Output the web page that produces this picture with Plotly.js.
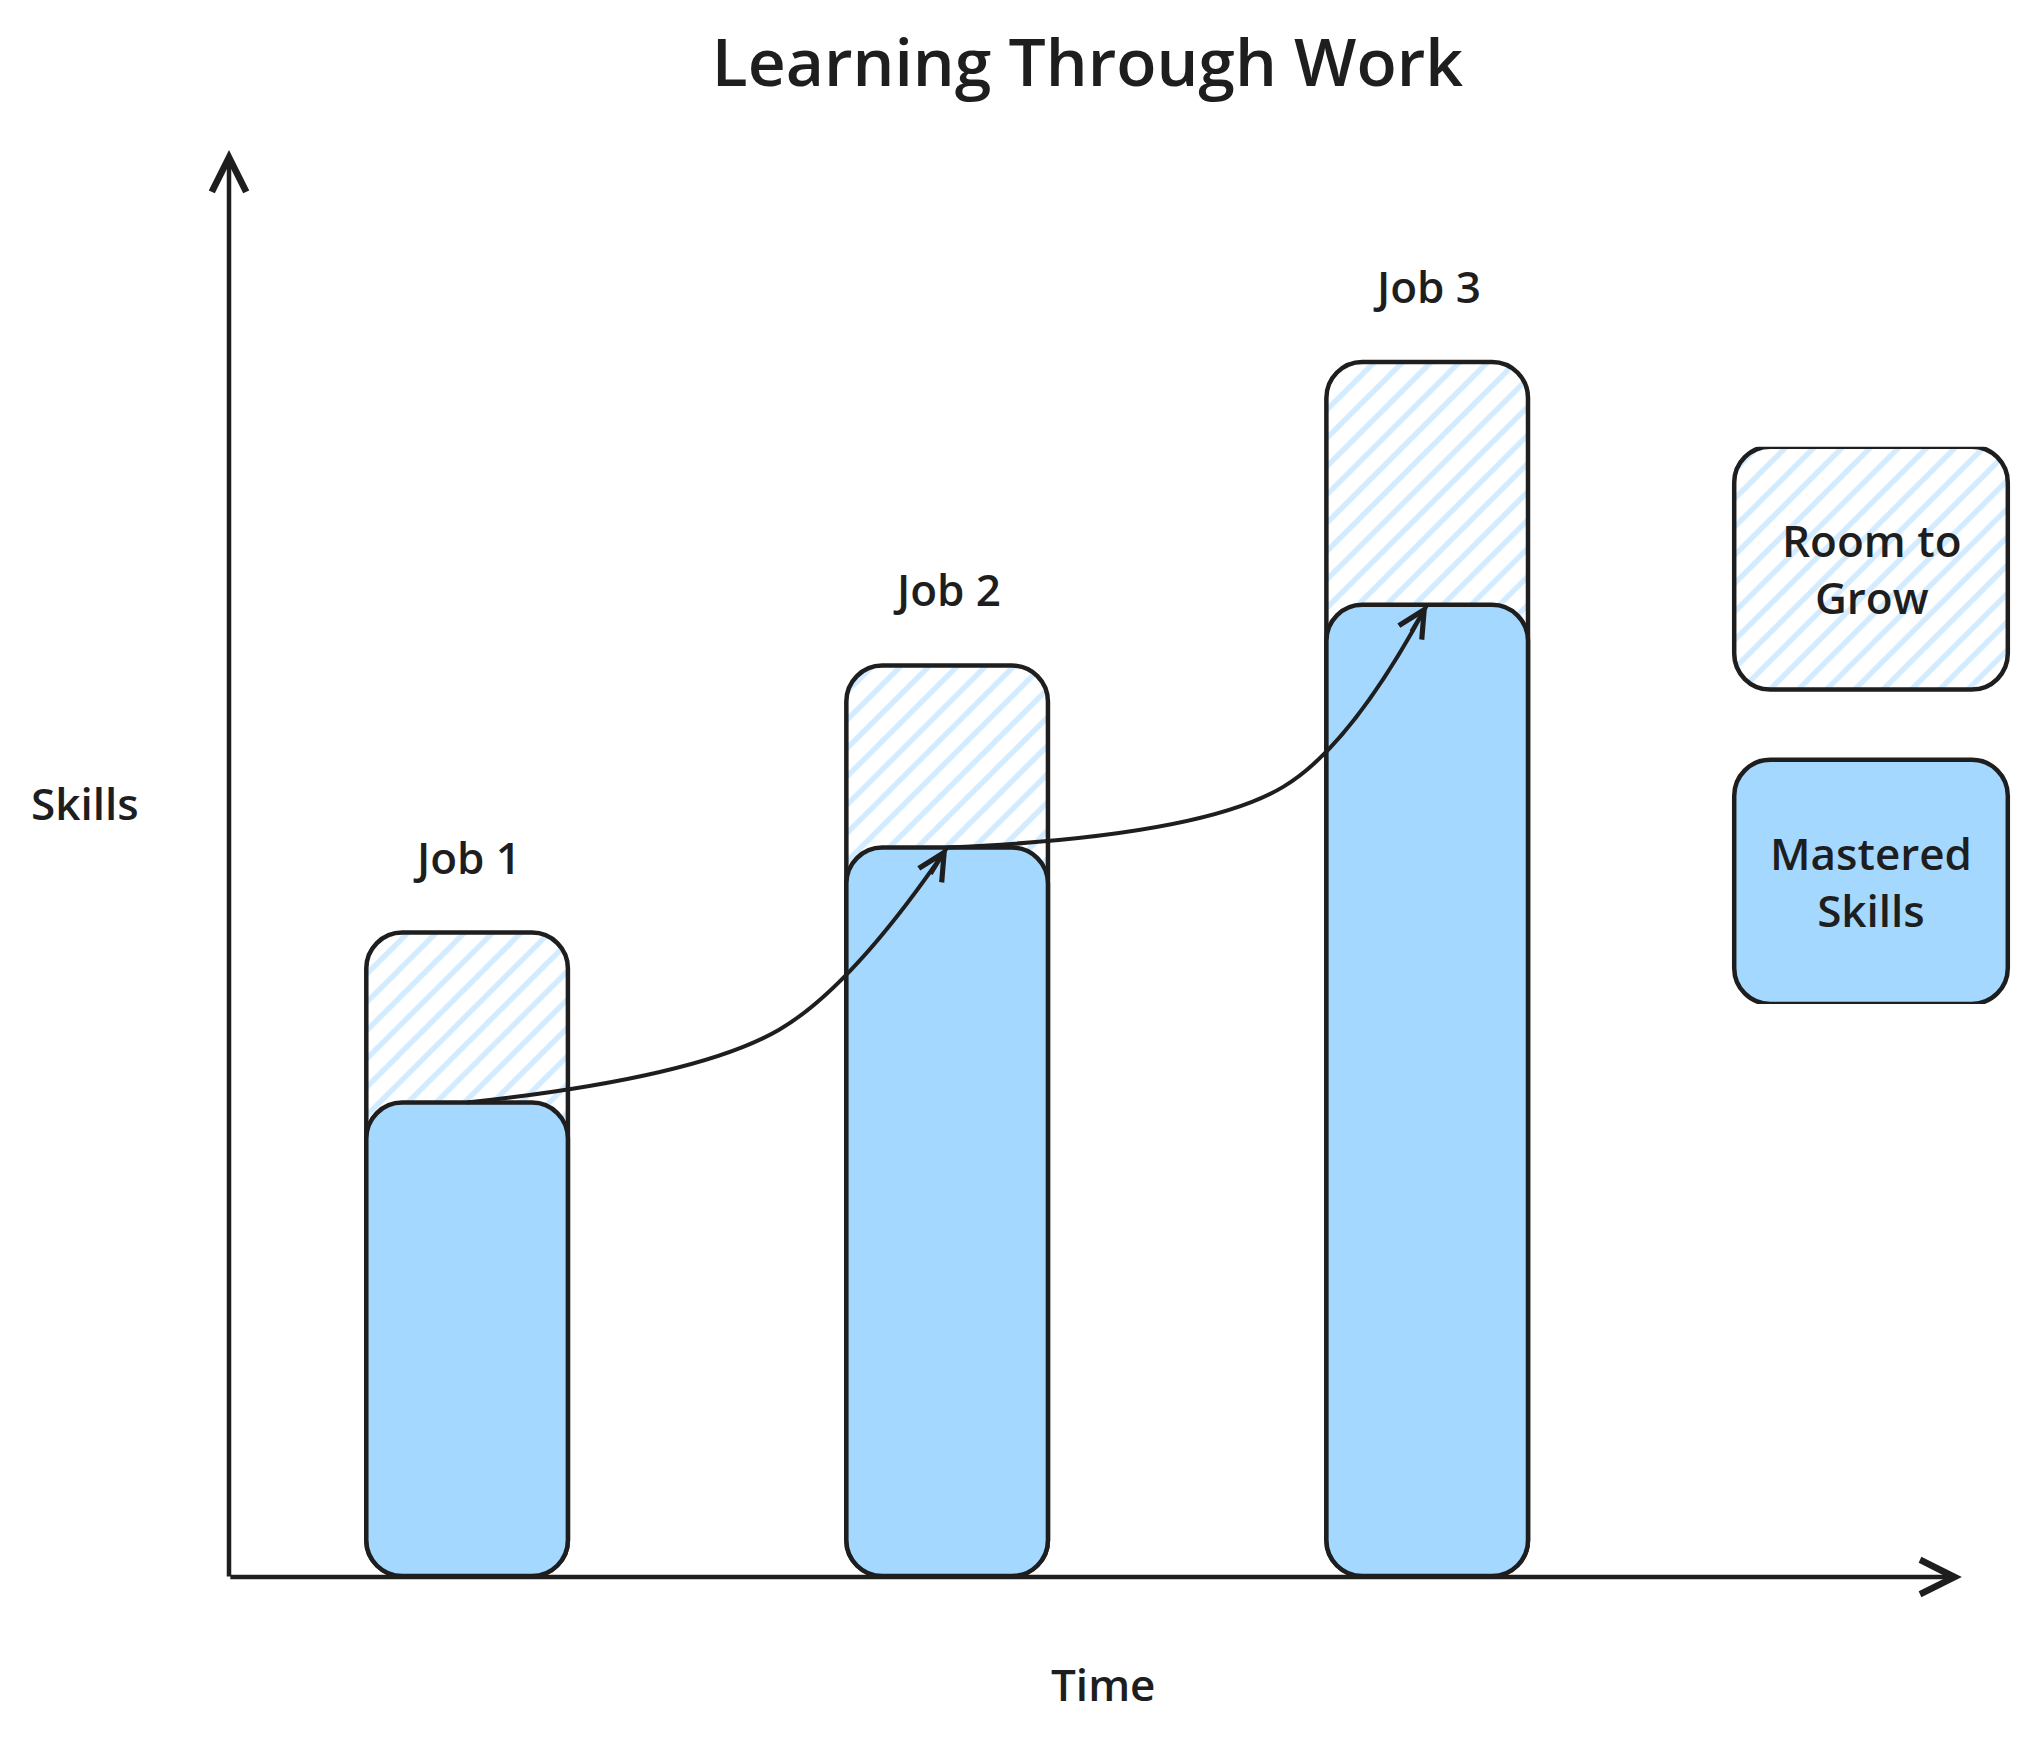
<!DOCTYPE html>
<html>
<head>
<meta charset="utf-8">
<script src="https://cdn.plot.ly/plotly-3.0.1.min.js"></script>
<style>html,body{margin:0;padding:0;background:#fff;}#chart{width:2031px;height:1738px;}</style>
</head>
<body>
<div id="chart"></div>
<script>
// ---- data ----
const chartTitle = 'Learning Through Work';
const categories = ['Job 1', 'Job 2', 'Job 3'];
const mastered = [3.9, 6.0, 8.0];        // Mastered Skills
const roomToGrow = [1.4, 1.5, 2.0];      // Room to Grow (on top of mastered)
const bendX = [0.65, 1.70];              // bend points of the growth arrows
const bendY = [4.5, 6.5];
const legendLabels = ['Room to<br>Grow', 'Mastered<br>Skills'];
const xTitle = 'Time';
const yTitle = 'Skills';

// ---- styles ----
const INK = '#1e1e1e';
const BLUE = '#a5d8ff';
const FONT = 'Open Sans, Noto Sans, sans-serif';
const hatch = {shape: '/', fgcolor: BLUE, bgcolor: 'white', size: 20, solidity: 0.27, fillmode: 'overlay'};

const pos = categories.map((c, i) => i);
const zeros = categories.map(() => 0);
const total = mastered.map((m, i) => m + roomToGrow[i]);

const traces = [];
traces.push({
  type: 'bar', x: pos, y: total, base: zeros, width: 0.42,
  marker: {color: 'white', pattern: hatch, line: {color: INK, width: 4.5}, cornerradius: 36},
  hoverinfo: 'skip', showlegend: false
});
traces.push({
  type: 'bar', x: pos, y: mastered, base: zeros, width: 0.42,
  marker: {color: BLUE, line: {color: INK, width: 4.5}, cornerradius: 36},
  hoverinfo: 'skip', showlegend: false
});
for (let i = 0; i < mastered.length - 1; i++) {
  traces.push({
    type: 'scatter', mode: 'lines',
    x: [pos[i], bendX[i], pos[i + 1]],
    y: [mastered[i], bendY[i], mastered[i + 1]],
    line: {shape: 'spline', smoothing: 1, color: INK, width: 4},
    hoverinfo: 'skip', showlegend: false
  });
}
// legend swatches on their own small axes
traces.push({
  type: 'bar', x: [0.5], base: [0.564], y: [0.436], width: [0.97], xaxis: 'x2', yaxis: 'y2',
  marker: {color: 'white', pattern: hatch, line: {color: INK, width: 4.5}, cornerradius: 36},
  hoverinfo: 'skip', showlegend: false
});
traces.push({
  type: 'bar', x: [0.5], base: [0], y: [0.438], width: [0.97], xaxis: 'x2', yaxis: 'y2',
  marker: {color: BLUE, line: {color: INK, width: 4.5}, cornerradius: 36},
  hoverinfo: 'skip', showlegend: false
});

const annotations = [];
const textFont = {family: FONT, size: 44, color: INK, weight: 600};
categories.forEach((c, i) => {
  annotations.push({x: pos[i], y: total[i], xref: 'x', yref: 'y', text: c, showarrow: false,
    yshift: 76, xanchor: 'center', yanchor: 'middle', font: textFont});
});
for (let i = 1; i < mastered.length; i++) {
  annotations.push({x: pos[i], y: mastered[i], xref: 'x', yref: 'y', text: '', showarrow: true,
    ax: -17, ay: 28, axref: 'pixel', ayref: 'pixel', arrowhead: 5, arrowsize: 1.5, arrowwidth: 3.5,
    arrowcolor: INK, standoff: 0});
}
// axis arrows
annotations.push({x: 0, y: 1, xref: 'paper', yref: 'paper', text: '', showarrow: true,
  ax: 0, ay: 1428, axref: 'pixel', ayref: 'pixel', arrowhead: 5, arrowsize: 1.5, arrowwidth: 4.5, arrowcolor: INK, standoff: 0});
annotations.push({x: 0.967, y: 0.009, xref: 'paper', yref: 'paper', text: '', showarrow: true,
  ax: -1733, ay: 0, axref: 'pixel', ayref: 'pixel', arrowhead: 5, arrowsize: 1.5, arrowwidth: 4.5, arrowcolor: INK, standoff: 0});
// axis titles
annotations.push({x: -0.0804, y: 0.5465, xref: 'paper', yref: 'paper', text: yTitle, showarrow: false,
  xanchor: 'center', yanchor: 'middle', font: textFont});
annotations.push({x: 0.488, y: -0.065, xref: 'paper', yref: 'paper', text: xTitle, showarrow: false,
  xanchor: 'center', yanchor: 'middle', font: textFont});
// legend texts
annotations.push({x: 0.5, y: 0.782, xref: 'x2', yref: 'y2', text: legendLabels[0], showarrow: false,
  xanchor: 'center', yanchor: 'middle', font: textFont});
annotations.push({x: 0.5, y: 0.219, xref: 'x2', yref: 'y2', text: legendLabels[1], showarrow: false,
  xanchor: 'center', yanchor: 'middle', font: textFont});

const hidden = {showgrid: false, zeroline: false, showticklabels: false, ticks: '', showline: false, fixedrange: true};

const layout = {
  width: 2031, height: 1738,
  paper_bgcolor: 'white', plot_bgcolor: 'white',
  margin: {l: 229, r: 10, t: 150, b: 148},
  title: {text: chartTitle, xref: 'paper', x: 0.479, xanchor: 'center', yref: 'container', y: 0.964, yanchor: 'middle',
    font: {family: FONT, size: 66, color: INK, weight: 600}},
  barmode: 'overlay',
  barcornerradius: 36,
  showlegend: false,
  xaxis: Object.assign({type: 'linear', range: [-0.496, 3.237]}, hidden),
  yaxis: Object.assign({range: [-0.115, 11.746]}, hidden),
  xaxis2: Object.assign({domain: [0.8376, 0.995], range: [0, 1], anchor: 'y2'}, hidden),
  yaxis2: Object.assign({domain: [0.407, 0.794], range: [0, 1], anchor: 'x2'}, hidden),
  annotations: annotations
};

Plotly.newPlot('chart', traces, layout, {displayModeBar: false, staticPlot: true});
</script>
</body>
</html>
